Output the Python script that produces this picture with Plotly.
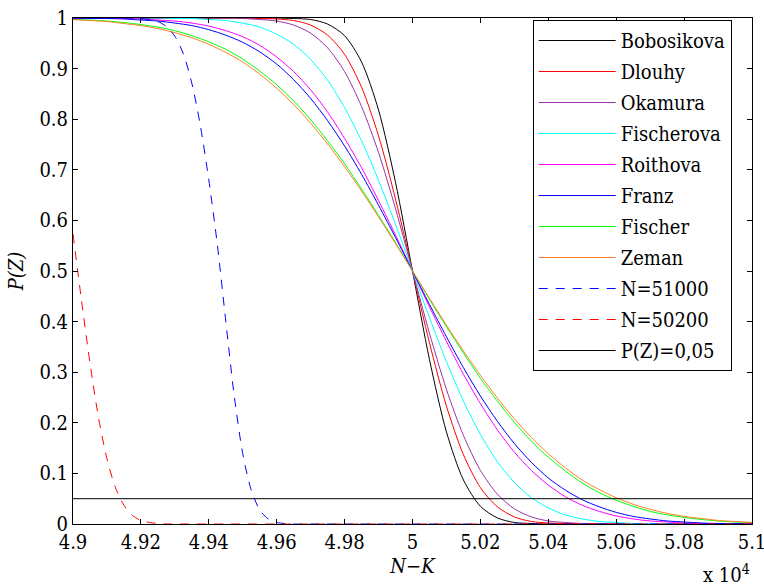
import plotly.graph_objects as go

# x grid (N-K) for the solid curves
x_grid = [49000, 49050, 49100, 49150, 49200, 49250, 49300, 49350, 49400, 49450,
          49500, 49550, 49600, 49650, 49700, 49750, 49800, 49850, 49900, 49950,
          50000, 50050, 50100, 50150, 50200, 50250, 50300, 50350, 50400, 50450,
          50500, 50550, 50600, 50650, 50700, 50750, 50800, 50850, 50900, 50950, 51000]

bobosikova = [1, 1, 1, 1, 1, 1, 1, 1, 1, 1, 1, 1, 1,
              0.999, 0.997, 0.988, 0.965, 0.913, 0.818, 0.675,
              0.5,
              0.325, 0.182, 0.087, 0.035, 0.012, 0.003, 0.001,
              0, 0, 0, 0, 0, 0, 0, 0, 0, 0, 0, 0, 0]

dlouhy = [1, 1, 1, 1, 1, 1, 1, 1, 1, 1, 1,
          0.999, 0.998, 0.995, 0.986, 0.966, 0.928, 0.863, 0.767, 0.642,
          0.5,
          0.358, 0.233, 0.137, 0.072, 0.034, 0.014, 0.005, 0.002, 0.001,
          0, 0, 0, 0, 0, 0, 0, 0, 0, 0, 0]

okamura = [1, 1, 1, 1, 1, 1, 1, 1, 1, 1,
           0.999, 0.997, 0.994, 0.986, 0.970, 0.941, 0.894, 0.825, 0.734, 0.623,
           0.5,
           0.377, 0.266, 0.175, 0.106, 0.059, 0.030, 0.014, 0.006, 0.003, 0.001,
           0, 0, 0, 0, 0, 0, 0, 0, 0, 0]

fischerova = [1, 1, 1, 1, 1, 1,
              0.999, 0.999, 0.997, 0.995, 0.990, 0.982, 0.968, 0.948, 0.918,
              0.877, 0.823, 0.757, 0.679, 0.592,
              0.5,
              0.408, 0.321, 0.243, 0.177, 0.123, 0.082, 0.052, 0.032, 0.018,
              0.010, 0.005, 0.003, 0.001, 0.001,
              0, 0, 0, 0, 0, 0]

roithova = [1, 1, 0.999, 0.999, 0.998, 0.996, 0.994, 0.990, 0.984, 0.975,
            0.963, 0.946, 0.923, 0.894, 0.858, 0.814, 0.762, 0.704, 0.639, 0.571,
            0.5,
            0.429, 0.361, 0.296, 0.238, 0.186, 0.142, 0.106, 0.077, 0.054,
            0.037, 0.025, 0.016, 0.010, 0.006, 0.004, 0.002, 0.001, 0.001, 0, 0]

franz = [1, 0.999, 0.999, 0.998, 0.996, 0.994, 0.990, 0.985, 0.977, 0.966,
         0.952, 0.933, 0.909, 0.878, 0.841, 0.797, 0.747, 0.691, 0.630, 0.566,
         0.5,
         0.434, 0.370, 0.309, 0.253, 0.203, 0.159, 0.122, 0.091, 0.067,
         0.048, 0.034, 0.023, 0.015, 0.010, 0.006, 0.004, 0.002, 0.001, 0.001, 0]

fischer = [0.997, 0.996, 0.994, 0.991, 0.987, 0.982, 0.975, 0.965, 0.953, 0.938,
           0.919, 0.895, 0.868, 0.836, 0.799, 0.757, 0.712, 0.662, 0.610, 0.556,
           0.5,
           0.444, 0.390, 0.338, 0.288, 0.243, 0.201, 0.164, 0.132, 0.105,
           0.081, 0.062, 0.047, 0.035, 0.025, 0.018, 0.013, 0.009, 0.006, 0.004, 0.003]

zeman = [0.997, 0.995, 0.993, 0.989, 0.985, 0.979, 0.971, 0.961, 0.948, 0.932,
         0.913, 0.889, 0.861, 0.829, 0.792, 0.751, 0.706, 0.658, 0.607, 0.554,
         0.5,
         0.446, 0.393, 0.342, 0.294, 0.249, 0.208, 0.171, 0.139, 0.111,
         0.087, 0.068, 0.052, 0.039, 0.029, 0.021, 0.015, 0.011, 0.007, 0.005, 0.003]

# dashed curves
n51000_x = [49000, 49100, 49200, 49250, 49275, 49300, 49325, 49350, 49375, 49400,
            49425, 49450, 49475, 49500, 49525, 49550, 49575, 49600, 49625, 49650,
            49700, 51000]
n51000_y = [1, 1, 0.999, 0.993, 0.983, 0.964, 0.929, 0.871, 0.788, 0.680,
            0.553, 0.401, 0.253, 0.139, 0.067, 0.028, 0.010, 0.003, 0.001, 0,
            0, 0]

n50200_x = [49000, 49025, 49050, 49075, 49100, 49125, 49150, 49175, 49200, 49225,
            49250, 49275, 49300, 51000]
n50200_y = [0.573, 0.442, 0.318, 0.211, 0.129, 0.072, 0.037, 0.017, 0.007, 0.003,
            0.001, 0, 0, 0]

threshold_x = [49000, 51000]
threshold_y = [0.05, 0.05]

x_tickvals = [49000, 49200, 49400, 49600, 49800, 50000, 50200, 50400, 50600, 50800, 51000]
x_ticktext = ["4.9", "4.92", "4.94", "4.96", "4.98", "5", "5.02", "5.04", "5.06", "5.08", "5.1"]
y_tickvals = [0, 0.1, 0.2, 0.3, 0.4, 0.5, 0.6, 0.7, 0.8, 0.9, 1]
y_ticktext = ["0", "0.1", "0.2", "0.3", "0.4", "0.5", "0.6", "0.7", "0.8", "0.9", "1"]

solid_series = [
    ("Bobosikova", bobosikova, "#000000"),
    ("Dlouhy", dlouhy, "#ff0000"),
    ("Okamura", okamura, "#9933aa"),
    ("Fischerova", fischerova, "#00ffff"),
    ("Roithova", roithova, "#ff00ff"),
    ("Franz", franz, "#0000ff"),
    ("Fischer", fischer, "#00ff00"),
    ("Zeman", zeman, "#ff7f2a"),
]

FONT = "DejaVu Serif Condensed, DejaVu Serif"
FS = 20

fig = go.Figure()
for name, ys, col in solid_series:
    fig.add_trace(go.Scatter(x=x_grid, y=ys, mode="lines", name=name,
                             line=dict(color=col, width=1, shape="spline", smoothing=0.8),
                             legendgroup=name))
fig.add_trace(go.Scatter(x=n51000_x, y=n51000_y, mode="lines", name="N=51000",
                         line=dict(color="#0000ff", width=1, dash="9px,8px",
                                   shape="spline", smoothing=0.8),
                         legendgroup="N=51000"))
fig.add_trace(go.Scatter(x=n50200_x, y=n50200_y, mode="lines", name="N=50200",
                         line=dict(color="#ff0000", width=1, dash="9px,8px",
                                   shape="spline", smoothing=0.8),
                         legendgroup="N=50200"))
fig.add_trace(go.Scatter(x=threshold_x, y=threshold_y, mode="lines", name="P(Z)=0,05",
                         line=dict(color="#000000", width=1),
                         legendgroup="thr"))

axis_common = dict(showline=True, linecolor="black", linewidth=1, mirror="ticks",
                   ticks="inside", ticklen=5, tickcolor="black", showgrid=False,
                   zeroline=False, ticklabeloverflow="allow", automargin=False,
                   tickfont=dict(family=FONT, size=FS, color="black"))

fig.update_layout(
    width=764, height=586,
    margin=dict(l=73, r=12, t=18, b=62),
    paper_bgcolor="white", plot_bgcolor="white",
    font=dict(family=FONT, size=FS, color="black"),
    xaxis=dict(range=[49000, 51000], tickvals=x_tickvals, ticktext=x_ticktext,
               title=dict(text="<i>N</i>\u2212<i>K</i>", standoff=4,
                          font=dict(family=FONT, size=FS)),
               **axis_common),
    yaxis=dict(range=[0, 1], tickvals=y_tickvals, ticktext=y_ticktext,
               title=dict(text="<i>P(Z)</i>", standoff=10,
                          font=dict(family=FONT, size=FS)),
               **axis_common),
    legend=dict(x=0.677, y=0.996, xanchor="left", yanchor="top",
                bgcolor="white", bordercolor="black", borderwidth=1,
                font=dict(family=FONT, size=FS, color="black"),
                tracegroupgap=2, itemwidth=77),
    showlegend=True,
)

fig.add_annotation(text="x 10<sup>4</sup>", xref="paper", yref="paper",
                   x=1.0, y=-0.128, xanchor="right", yanchor="bottom", showarrow=False,
                   font=dict(family=FONT, size=FS, color="black"))

fig.write_html("out.html")
